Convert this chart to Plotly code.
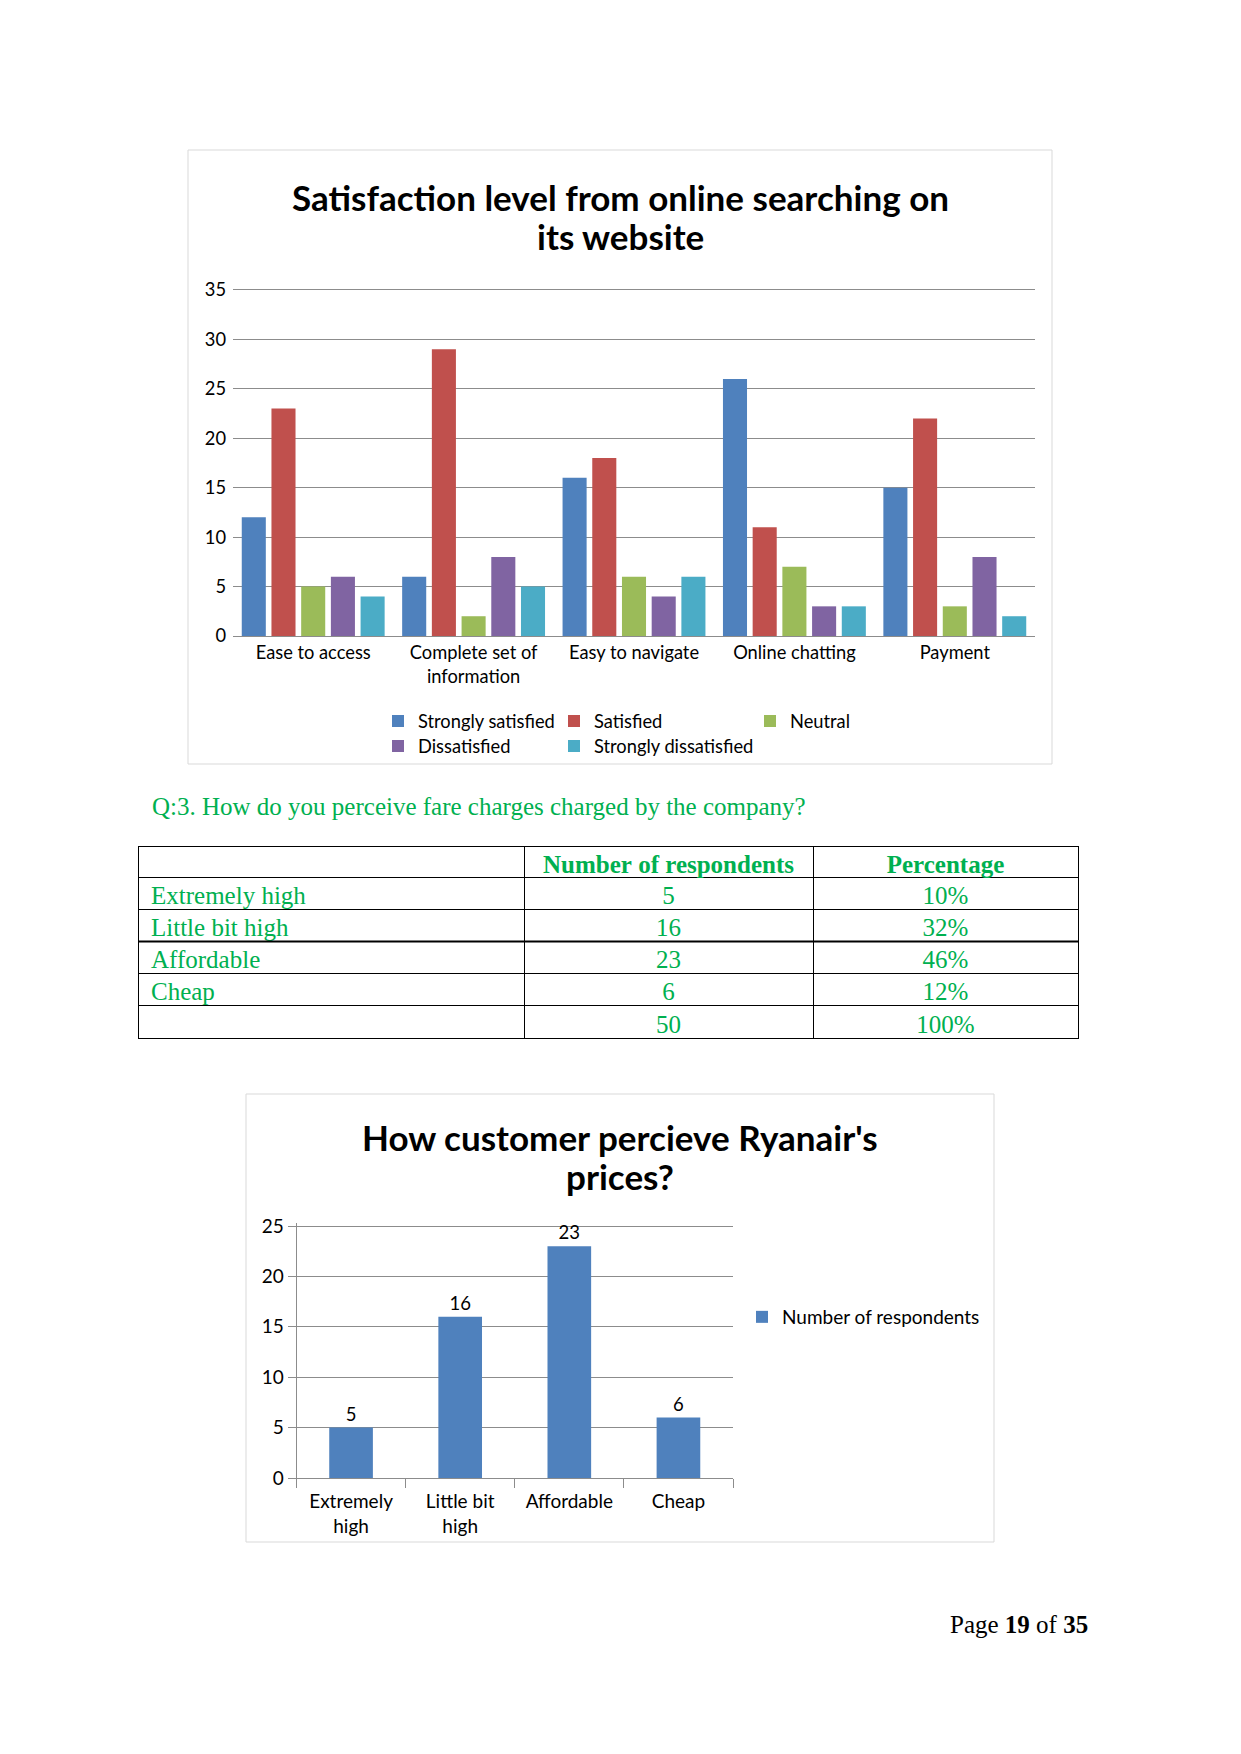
import plotly.graph_objects as go

W, H = 1241, 1754

# ---------------- data ----------------
features = ["Ease to access", "Complete set of information", "Easy to navigate",
            "Online chatting", "Payment"]
feature_tick_labels = ["Ease to access", "Complete set of<br>information", "Easy to navigate",
                       "Online chatting", "Payment"]
strongly_satisfied = [12, 6, 16, 26, 15]
satisfied = [23, 29, 18, 11, 22]
neutral = [5, 2, 6, 7, 3]
dissatisfied = [6, 8, 4, 3, 8]
strongly_dissatisfied = [4, 5, 6, 3, 2]

fare_levels = ["Extremely high", "Little bit high", "Affordable", "Cheap"]
fare_tick_labels = ["Extremely<br>high", "Little bit<br>high", "Affordable", "Cheap"]
respondents = [5, 16, 23, 6]
percentages = ["10%", "32%", "46%", "12%"]
total_respondents = 50
total_percentage = "100%"
table_header = ["", "Number of respondents", "Percentage"]

# ---------------- helpers ----------------
def px(x):
    return x / W

def py(y):
    return 1 - y / H

def nb(s):
    return s.replace(" ", "\u00a0")

GREEN = "#00B050"
GRID = "#8C8C8C"
CHART_FONT = "Lato"
SERIF = "Liberation Serif"

fig = go.Figure()

series = [
    ("Strongly satisfied", strongly_satisfied, "#4F81BD", "legend"),
    ("Satisfied", satisfied, "#C0504D", "legend2"),
    ("Neutral", neutral, "#9BBB59", "legend3"),
    ("Dissatisfied", dissatisfied, "#8064A2", "legend4"),
    ("Strongly dissatisfied", strongly_dissatisfied, "#4BACC6", "legend5"),
]
for name, vals, col, lg in series:
    fig.add_trace(go.Bar(x=features, y=vals, name=name, marker_color=col,
                         marker_line_width=0, legend=lg, xaxis="x", yaxis="y",
                         hoverinfo="skip"))

fig.add_trace(go.Bar(x=fare_levels, y=respondents, name="Number of respondents",
                     marker_color="#4F81BD", marker_line_width=0, width=0.4,
                     text=[str(v) for v in respondents], textposition="outside",
                     textfont=dict(family=CHART_FONT, size=18.5, color="black"),
                     cliponaxis=False, legend="legend6", xaxis="x2", yaxis="y2",
                     hoverinfo="skip"))

# Table
fig.add_trace(go.Table(
    domain=dict(x=[px(138), px(1078)], y=[py(1040), py(846)]),
    columnwidth=[386, 289, 265],
    header=dict(values=[nb(h) for h in table_header],
                align=["left", "center", "center"],
                font=dict(family=SERIF, size=25, color=GREEN, weight="bold"),
                line=dict(color="black", width=1), fill=dict(color="white"),
                height=31),
    cells=dict(values=[[nb(f) for f in fare_levels] + [""],
                       [str(v) for v in respondents] + [str(total_respondents)],
                       percentages + [total_percentage]],
               prefix=["\u2009", "", ""],
               align=["left", "center", "center"],
               font=dict(family=SERIF, size=25, color=GREEN),
               line=dict(color="black", width=1), fill=dict(color="white"),
               height=32.2),
))

font1 = dict(family=CHART_FONT, size=18.3, color="black")
font2 = dict(family=CHART_FONT, size=19, color="black")

def legend_at(x_sq, y_c, f):
    return dict(x=px(x_sq - 14), y=py(y_c), xanchor="left", yanchor="middle",
                orientation="v", font=f, bgcolor="rgba(0,0,0,0)",
                borderwidth=0, itemclick=False, itemdoubleclick=False)

fig.update_layout(
    width=W, height=H,
    margin=dict(l=0, r=0, t=0, b=0, autoexpand=False),
    paper_bgcolor="white", plot_bgcolor="white",
    showlegend=True,
    barmode="group", bargap=0.074, bargroupgap=0.19,
    font=dict(family=CHART_FONT, color="black"),
    xaxis=dict(domain=[px(233), px(1035)], anchor="y", tickvals=features,
               ticktext=feature_tick_labels, tickfont=font1,
               showline=True, linecolor=GRID, linewidth=1, ticks="",
               showgrid=False, fixedrange=True, ticklabelstandoff=0),
    yaxis=dict(domain=[py(636), py(287)], anchor="x", range=[0, 35.3],
               tickvals=[0, 5, 10, 15, 20, 25, 30, 35],
               tickfont=font1, showgrid=True, gridcolor=GRID, gridwidth=1,
               zeroline=False, showline=False, ticks="", ticklabelstandoff=6,
               fixedrange=True),
    xaxis2=dict(domain=[px(296.5), px(733)], anchor="y2", tickvals=fare_levels,
                ticktext=fare_tick_labels, tickfont=font2,
                showline=True, linecolor=GRID, linewidth=1, ticks="outside",
                tickson="boundaries", ticklen=9, tickcolor=GRID, showgrid=False,
                fixedrange=True, ticklabelstandoff=6),
    yaxis2=dict(domain=[py(1478), py(1223)], anchor="x2", range=[0, 25.3],
                tickvals=[0, 5, 10, 15, 20, 25],
                tickfont=font2, showgrid=True, gridcolor=GRID, gridwidth=1,
                zeroline=False, showline=True, linecolor=GRID, ticks="outside",
                ticklen=8, tickcolor=GRID, fixedrange=True),
    legend=legend_at(392, 721, font1),
    legend2=legend_at(568, 721, font1),
    legend3=legend_at(764, 721, font1),
    legend4=legend_at(392, 746, font1),
    legend5=legend_at(568, 746, font1),
    legend6=legend_at(756, 1317, font2),
)

title_font = dict(family=CHART_FONT, size=35, color="black")
annotations = [
    dict(text="<b>Satisfaction level from online searching on</b>",
         x=px(620), y=py(197), font=title_font),
    dict(text="<b>its website</b>", x=px(620), y=py(236), font=title_font),
    dict(text="<b>How customer percieve Ryanair's</b>",
         x=px(620), y=py(1137), font=title_font),
    dict(text="<b>prices?</b>", x=px(620), y=py(1176), font=title_font),
    dict(text="Q:3. How do you perceive fare charges charged by the company?",
         x=px(150), y=py(806), xanchor="left",
         font=dict(family=SERIF, size=25, color=GREEN)),
    dict(text="Page <b>19</b> of <b>35</b>", x=px(1090), y=py(1624), xanchor="right",
         font=dict(family=SERIF, size=25, color="black")),
]
for a in annotations:
    a.setdefault("xanchor", "center")
    a.update(xref="paper", yref="paper", yanchor="middle", showarrow=False)
fig.update_layout(annotations=annotations)

fig.update_layout(shapes=[
    dict(type="rect", xref="paper", yref="paper", x0=px(188), x1=px(1052),
         y0=py(764), y1=py(150), line=dict(color="#D9D9D9", width=1), layer="below"),
    dict(type="rect", xref="paper", yref="paper", x0=px(246), x1=px(994),
         y0=py(1542), y1=py(1094), line=dict(color="#D9D9D9", width=1), layer="below"),
    dict(type="line", xref="paper", yref="paper", x0=px(138), x1=px(1078),
         y0=py(941.4), y1=py(941.4), line=dict(color="black", width=2), layer="above"),
])

fig.write_html("out.html", config=dict(displayModeBar=False))
